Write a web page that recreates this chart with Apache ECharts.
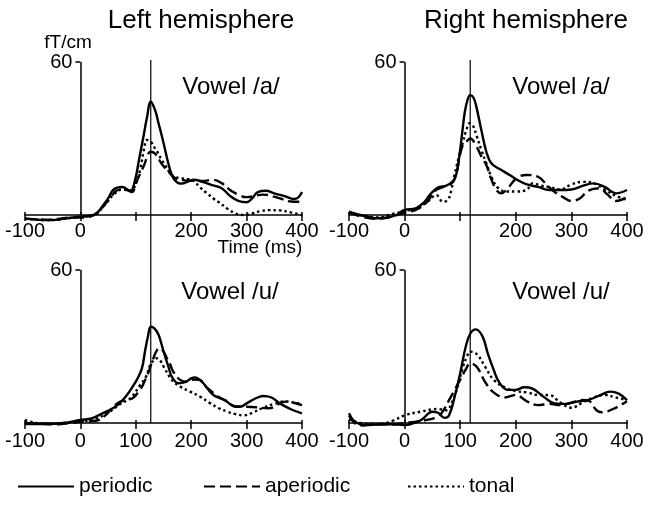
<!DOCTYPE html>
<html>
<head>
<meta charset="utf-8">
<script src="https://cdn.jsdelivr.net/npm/echarts@6/dist/echarts.min.js"></script>
<style>html,body{margin:0;padding:0;background:#fff}#main{width:650px;height:510px}</style>
</head>
<body>
<div id="main"></div>
<script>
// axis ticks / labels
var xMin = -100, xMax = 400;
var xTicks = [-100, 0, 100, 200, 300, 400];
var xLabelsTop = [-100, 0, 200, 300, 400];
var xLabelsBottom = [-100, 0, 100, 200, 300, 400];
var yTicks = [60];
var seriesNames = ['periodic', 'aperiodic', 'tonal'];
var peakLeft = 127, peakRight = 118;

// left hemisphere, vowel /a/
var tlPeriodic = [[-100,-1.3],[-80,-1.8],[-60,-2],[-40,-1.8],[-20,-1.2],[0,-0.6],[20,-0.2],[30,0.8],[40,3.5],[50,6.5],[60,10],[75,11],[90,9.5],[99,14],[106,22],[114,31],[120,38],[127,44.4],[135,41],[141,36],[147,31],[153,25.5],[159,20],[165,15.7],[171,13.5],[177,12.5],[183,12.3],[195,13.2],[205,13.8],[220,13],[240,11.6],[255,10.5],[270,7.5],[285,5.5],[300,5],[310,6.5],[320,9],[335,9.5],[350,8.5],[370,7.3],[385,6.3],[393,6.8],[400,9]];
var tlAperiodic = [[-100,-1.5],[-80,-1.6],[-60,-1.8],[-40,-1.5],[-20,-1],[0,-1],[20,-0.4],[30,0.8],[40,3],[55,7],[65,9.5],[80,10],[93,9],[101,13],[114,19],[127,24.8],[135,24],[147,20],[159,17],[171,14.5],[185,13.7],[200,13.4],[220,13.4],[240,13.8],[255,12.5],[270,9.8],[285,8],[300,7],[330,8],[360,6.5],[380,5.3],[400,5.2]];
var tlTonal = [[-100,-1.5],[-80,-1.8],[-60,-2],[-40,-1.8],[-20,-1.2],[0,-0.8],[20,-0.2],[30,0.5],[40,3],[50,5.5],[60,8],[75,10],[90,9.5],[100,12],[108,18],[115,26],[120,29.4],[128,28.5],[135,26],[141,24],[147,21.5],[153,19.6],[160,17],[170,15],[180,14.5],[195,14],[205,13.4],[215,11],[228,8.6],[240,6.5],[250,5],[265,2.5],[280,0.6],[295,0],[310,0.6],[325,1.5],[340,1.9],[360,1.8],[380,1],[400,0]];

// right hemisphere, vowel /a/
var trPeriodic = [[-100,1.3],[-80,0],[-60,-1],[-50,-1.3],[-30,-1],[-15,0],[0,2],[20,2.6],[35,5],[45,7.8],[55,10],[63,11],[75,11.5],[87,13.3],[93,16],[99,24],[104,33],[108,40],[113,45],[118,47],[124,46],[129,42.5],[138,33.3],[147,24.8],[156,20.3],[171,18],[189,15.7],[205,13.5],[220,12],[240,11],[260,9.8],[280,9.8],[300,10],[320,11.4],[340,12.4],[360,11],[380,8.5],[400,9.8]];
var trAperiodic = [[-100,1],[-80,-0.5],[-50,-1.5],[-20,-0.5],[0,1],[20,2],[40,5],[55,9.5],[70,11],[85,12.5],[93,16],[99,22.9],[105,27.5],[112,29],[118,30],[129,27],[138,23],[147,19.6],[156,14],[165,9.8],[174,8.5],[186,10.6],[201,14.4],[219,15.7],[240,15],[255,12],[270,9],[285,7],[300,5.5],[315,6.5],[330,9.5],[350,10.5],[365,8],[380,5.5],[400,7]];
var trTonal = [[-100,1],[-80,0],[-50,-1],[-20,0.5],[0,1.5],[20,2.5],[40,5],[57,7.8],[69,5.2],[78,6],[84,9.8],[90,16],[99,24],[105,28.7],[111,33.3],[117,36],[123,35],[129,31.4],[138,25.5],[147,20.3],[156,15],[168,10.6],[183,9.2],[201,9.2],[219,9.8],[231,12.5],[245,11.5],[260,11],[280,10],[300,12],[320,13],[340,12.5],[360,10],[380,7.5],[400,6]];

// left hemisphere, vowel /u/
var blPeriodic = [[-100,-0.4],[-60,-0.4],[-30,0],[0,1.2],[20,1.8],[40,3.8],[60,6],[72,8],[84,11],[95,14.5],[102,17],[111,21.4],[117,28.6],[122,34],[127,37.8],[134,37],[141,34.6],[147,30.5],[153,26],[159,22],[165,18.2],[177,15.6],[189,16],[200,17.5],[207,17.9],[215,17],[222,15.6],[240,11],[260,9],[280,6.5],[290,6.5],[300,7.7],[315,9.5],[330,10.6],[345,10],[360,7.7],[380,5.4],[400,3.8]];
var blAperiodic = [[-100,0],[-70,-0.3],[-40,-0.5],[-20,0],[0,0.5],[30,1],[45,3],[60,6.5],[72,8.4],[84,9],[96,10],[104,12],[111,14.2],[117,17],[123,20],[132,25.5],[138,28.5],[144,29.3],[150,28],[156,25.5],[162,23],[168,20],[180,16.9],[192,16.2],[204,17],[216,16.9],[225,14.5],[234,12.9],[249,10.3],[265,8.5],[280,6.4],[300,6.4],[340,5.8],[370,8.4],[400,7]];
var blTonal = [[-100,1.2],[-85,0.2],[-60,-0.3],[-30,0],[0,0.5],[25,1.5],[50,4],[72,7.5],[90,9.7],[108,14.9],[118,18],[126,22.7],[132,24.5],[138,25.4],[144,24.5],[150,22.2],[165,16.9],[180,14.3],[198,12.3],[216,10.3],[234,7.8],[249,5.9],[265,4.5],[280,3.5],[295,3],[310,4],[330,6],[350,7.5],[370,8.5],[385,8],[400,7.5]];

// right hemisphere, vowel /u/
var brPeriodic = [[-100,3.8],[-92,1],[-80,-0.5],[-70,-0.8],[-50,-0.6],[-25,-0.5],[0,-0.8],[10,-0.5],[30,1.2],[50,4.4],[60,4],[72,2],[80,3],[90,10.3],[100,19.5],[110,30],[118,35],[128,36.7],[140,34],[150,27],[160,21],[170,16],[185,13],[200,13],[215,14],[230,13.5],[250,10.3],[270,7.7],[290,7.5],[310,8.4],[330,9],[350,10.7],[370,12.3],[385,11.5],[400,9]];
var brAperiodic = [[-100,3],[-90,0],[-80,-1],[-50,-0.5],[-20,-0.5],[0,0],[20,0.5],[40,1.2],[60,2.5],[70,5],[80,9],[90,13],[100,17],[110,21],[118,23.4],[130,22],[145,16],[160,12],[180,10],[200,11],[220,8.5],[240,7],[260,7.5],[280,7],[300,8],[320,9],[333,8.5],[345,5],[355,4.2],[375,5.5],[400,8.5]];
var brTonal = [[-100,1.5],[-80,0],[-50,-0.5],[-20,1],[0,3],[30,4.5],[60,5.5],[75,5],[85,8],[95,14],[105,22],[112,26],[118,28],[130,27],[145,22],[160,17],[180,14],[200,12.5],[220,12],[240,11],[260,11],[280,8],[300,6],[320,8],[340,10],[360,11],[380,10],[400,9]];

var panelData = [
	[tlPeriodic, tlAperiodic, tlTonal],
	[trPeriodic, trAperiodic, trTonal],
	[blPeriodic, blAperiodic, blTonal],
	[brPeriodic, brAperiodic, brTonal]
];

var FONT = "'Liberation Sans', Arial, Helvetica, sans-serif";
var lineTypes = ['solid', [11, 5], [2.5, 3]];
var boxes = [[25, 62, 277], [349, 62, 278], [25, 270, 277], [349, 270, 278]];
var plotH = 160.65;

var grid = [], xAxis = [], yAxis = [], series = [];

boxes.forEach(function (b, i) {
	grid.push({left: b[0], top: b[1], width: b[2], height: plotH, outerBoundsMode: 'none'});
	xAxis.push({
		type: 'value', gridIndex: i, min: xMin, max: xMax, position: 'bottom',
		axisLine: {onZero: true, lineStyle: {color: '#000', width: 1.5}},
		axisTick: {length: 6, customValues: xTicks, lineStyle: {color: '#000', width: 1.5}},
		axisLabel: {customValues: i < 2 ? xLabelsTop : xLabelsBottom, margin: i < 2 ? -1 : 1, color: '#000', fontSize: 20, fontFamily: FONT},
		splitLine: {show: false}
	});
	// y axis moved over to time 0; its visible line is a markLine from 0 to 60
	yAxis.push({
		type: 'value', gridIndex: i, min: -3, max: 60, position: 'left',
		offset: -(0 - xMin) / (xMax - xMin) * b[2],
		axisLine: {show: false, onZero: false},
		axisTick: {show: true, length: 5, customValues: yTicks, lineStyle: {color: '#000', width: 1.5}},
		axisLabel: {customValues: yTicks, margin: 8, color: '#000', fontSize: 20, fontFamily: FONT},
		splitLine: {show: false}
	});
});
// short inner half of the crossing x ticks
boxes.forEach(function (b, i) {
	xAxis.push({
		type: 'value', gridIndex: i, min: xMin, max: xMax, position: 'bottom',
		axisLine: {show: true, onZero: true, onZeroAxisIndex: i, lineStyle: {opacity: 0}},
		axisTick: {inside: true, length: 3, customValues: xTicks, lineStyle: {color: '#000', width: 1.5}},
		axisLabel: {show: false},
		splitLine: {show: false}
	});
});

panelData.forEach(function (set, i) {
	set.forEach(function (d, k) {
		var s = {
			name: seriesNames[k], type: 'line', xAxisIndex: i, yAxisIndex: i,
			data: d, smooth: 0.4, symbol: 'none', silent: true,
			itemStyle: {color: '#000'},
			lineStyle: {color: '#000', width: 2.4, type: lineTypes[k]}
		};
		if (k == 0) {
			s.markLine = {
				silent: true, symbol: ['none', 'none'], label: {show: false},
				lineStyle: {color: '#000', width: 1.5, type: 'solid'},
				data: [[{coord: [0, 0]}, {coord: [0, 60]}]]
			};
		}
		series.push(s);
	});
});

// vertical peak lines running through both rows
var overlay = [[25, 277, peakLeft], [349, 278, peakRight]];
overlay.forEach(function (o, j) {
	var gi = grid.length;
	grid.push({left: o[0], top: 60, width: o[1], height: 363, outerBoundsMode: 'none'});
	xAxis.push({type: 'value', gridIndex: gi, min: xMin, max: xMax, show: false});
	yAxis.push({type: 'value', gridIndex: gi, min: 0, max: 1, show: false});
	series.push({
		type: 'line', xAxisIndex: xAxis.length - 1, yAxisIndex: yAxis.length - 1,
		data: [[o[2], 0], [o[2], 1]], symbol: 'none', silent: true,
		lineStyle: {color: '#000', width: 1.2}
	});
});

function label(text, x, y, size) {
	return {text: text, left: x, top: y, textAlign: 'center', padding: 0,
		textStyle: {fontSize: size, fontWeight: 'normal', color: '#000', fontFamily: FONT}};
}

var legendLeft = [17, 203, 407];

var option = {
	animation: false,
	backgroundColor: '#fff',
	title: [
		label('Left hemisphere', 201, 8, 26),
		label('Right hemisphere', 526, 8, 26),
		label('Vowel /a/', 231, 75, 24),
		label('Vowel /a/', 561, 75, 24),
		label('Vowel /u/', 230, 280, 24),
		label('Vowel /u/', 561, 280, 24),
		label('Time (ms)', 260, 238, 19),
		label('fT/cm', 68, 33, 19)
	],
	legend: seriesNames.map(function (n, k) {
		return {
			data: [n], left: legendLeft[k], top: 476, padding: 0,
			itemWidth: 56, itemHeight: 16, selectedMode: false,
			itemStyle: {opacity: 0},
			textStyle: {fontSize: 21, color: '#000', fontFamily: FONT}
		};
	}),
	grid: grid,
	xAxis: xAxis,
	yAxis: yAxis,
	series: series
};

var myChart = echarts.init(document.getElementById('main'));
myChart.setOption(option);
</script>
</body>
</html>
